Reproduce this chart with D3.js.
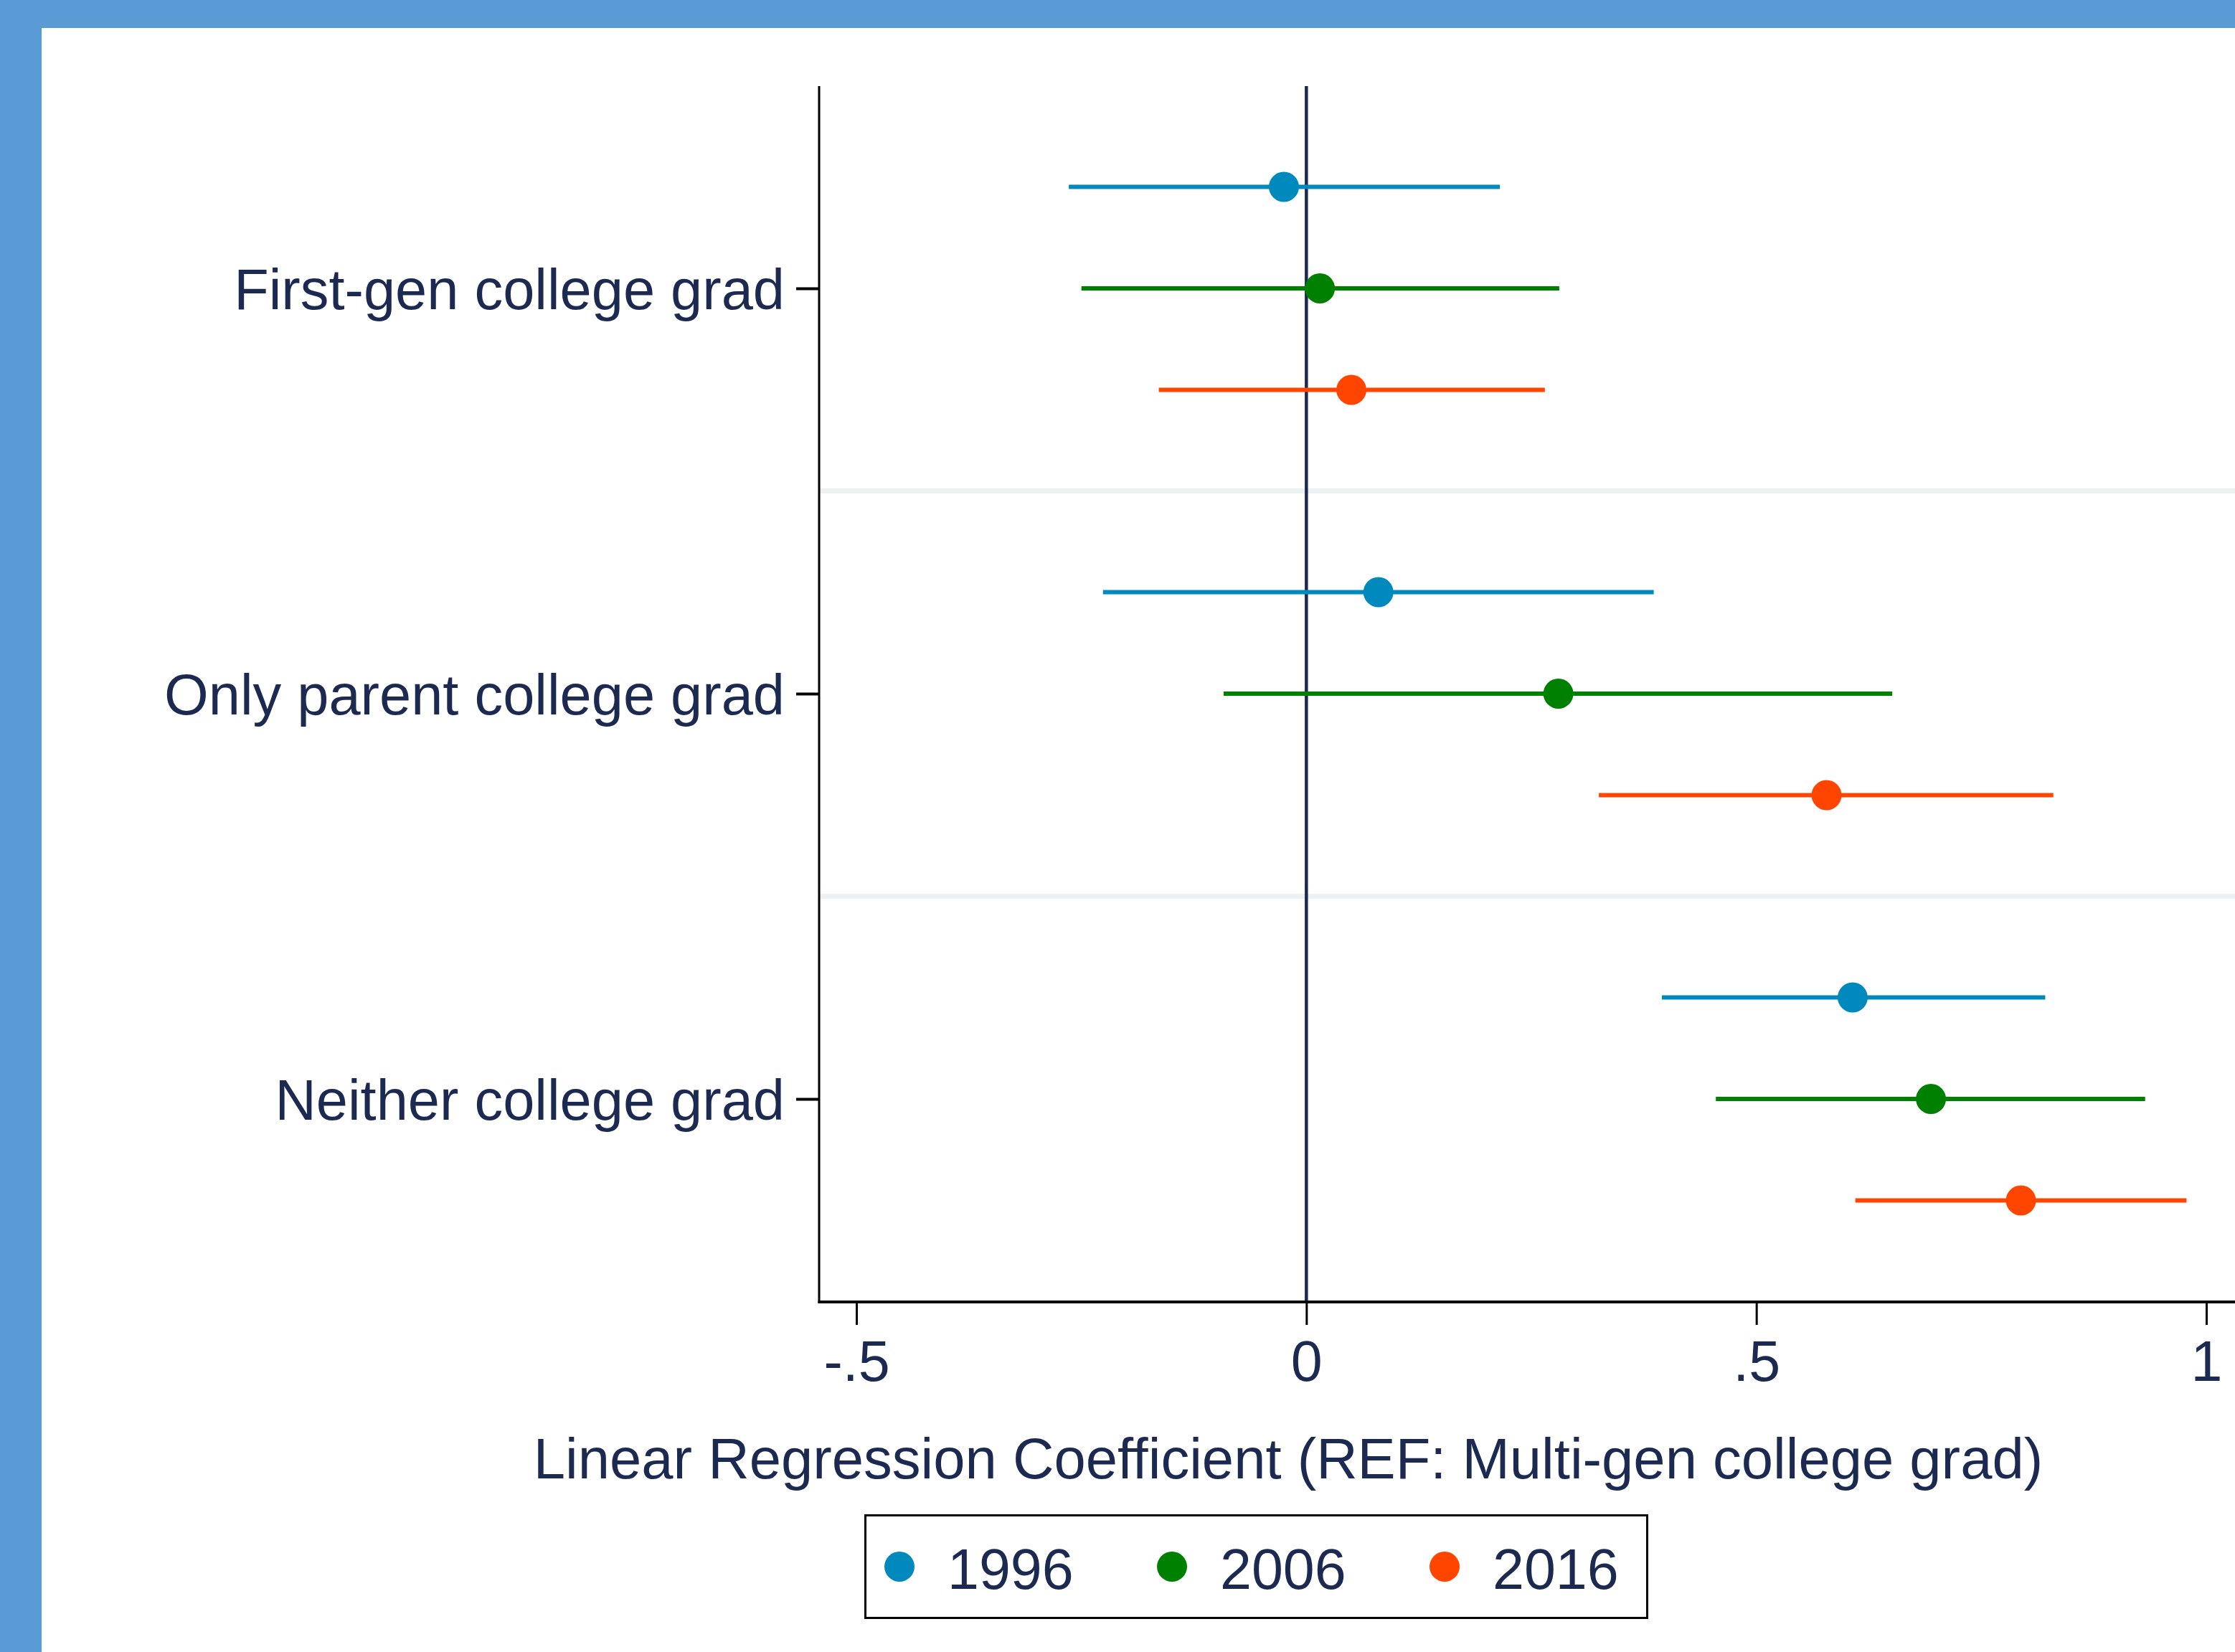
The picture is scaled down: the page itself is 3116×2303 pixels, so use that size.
<!DOCTYPE html>
<html>
<head>
<meta charset="utf-8">
<script src="https://cdn.jsdelivr.net/npm/d3@7"></script>
<style>
  html, body { margin: 0; padding: 0; background: #5b9bd5; }
  svg { display: block; }
  text { font-family: "Liberation Sans", Arial, Helvetica, sans-serif; fill: #1c2a52; }
</style>
</head>
<body>
<div id="chart"></div>
<script>
const categories = ["First-gen college grad", "Only parent college grad", "Neither college grad"];
const years = ["1996", "2006", "2016"];
const colors = ["#0089bd", "#008000", "#ff4500"];

// point estimates and 95% CI, one array per year (order follows categories)
const coef1996 = [-0.025, 0.080, 0.607];
const lo1996 = [-0.264, -0.226, 0.395];
const hi1996 = [0.215, 0.386, 0.821];
const coef2006 = [0.015, 0.280, 0.694];
const lo2006 = [-0.250, -0.092, 0.455];
const hi2006 = [0.281, 0.651, 0.932];
const coef2016 = [0.050, 0.578, 0.794];
const lo2016 = [-0.164, 0.325, 0.610];
const hi2016 = [0.265, 0.830, 0.978];

const xTicks = [-0.5, 0, 0.5, 1];
const xTickLabels = ["-.5", "0", ".5", "1"];
const xTitle = "Linear Regression Coefficient (REF: Multi-gen college grad)";

const width = 3116, height = 2303;
const plotLeft = 1142, plotTop = 120, plotBottom = 1815;

const series = [
    { year: years[0], coef: coef1996, lo: lo1996, hi: hi1996, color: colors[0] },
    { year: years[1], coef: coef2006, lo: lo2006, hi: hi2006, color: colors[1] },
    { year: years[2], coef: coef2016, lo: lo2016, hi: hi2016, color: colors[2] }
];

const svg = d3.select("#chart")
    .append("svg")
    .attr("width", width)
    .attr("height", height);

// frame: blue border top/left, white page
svg.append("rect")
    .attr("x", 0).attr("y", 0)
    .attr("width", width).attr("height", height)
    .attr("fill", "#5b9bd5");
svg.append("rect")
    .attr("x", 58).attr("y", 39)
    .attr("width", width - 58).attr("height", height - 39)
    .attr("fill", "white");

const x = d3.scaleLinear()
    .domain([-0.5, 1])
    .range([1194, 3076]);

const y = d3.scalePoint()
    .domain(categories)
    .range([402, 1532]);

const offset = d3.scalePoint()
    .domain(years)
    .range([-141.5, 141.5]);

// light gridlines between category groups
const step = y(categories[1]) - y(categories[0]);
svg.selectAll("line.grid")
    .data(categories.slice(0, -1))
    .enter().append("line")
    .attr("class", "grid")
    .attr("x1", plotLeft).attr("x2", width)
    .attr("y1", d => y(d) + step / 2)
    .attr("y2", d => y(d) + step / 2)
    .attr("stroke", "#eaf2f3")
    .attr("stroke-width", 7);

// zero reference line
svg.append("line")
    .attr("x1", x(0)).attr("x2", x(0))
    .attr("y1", plotTop).attr("y2", plotBottom)
    .attr("stroke", "#1c2a52")
    .attr("stroke-width", 4.5);

// error bars + points
series.forEach(s => {
    const g = svg.append("g");
    g.selectAll("line")
        .data(categories)
        .enter().append("line")
        .attr("x1", (d, i) => x(s.lo[i]))
        .attr("x2", (d, i) => x(s.hi[i]))
        .attr("y1", d => y(d) + offset(s.year))
        .attr("y2", d => y(d) + offset(s.year))
        .attr("stroke", s.color)
        .attr("stroke-width", 6);
    g.selectAll("circle")
        .data(categories)
        .enter().append("circle")
        .attr("cx", (d, i) => x(s.coef[i]))
        .attr("cy", d => y(d) + offset(s.year))
        .attr("r", 21)
        .attr("fill", s.color);
});

// axes
const xAxis = svg.append("g")
    .attr("transform", `translate(0, ${plotBottom})`)
    .call(d3.axisBottom(x)
        .tickValues(xTicks)
        .tickFormat((d, i) => xTickLabels[i])
        .tickSize(32)
        .tickPadding(22));
xAxis.select(".domain").remove();
xAxis.selectAll(".tick line").attr("stroke", "black").attr("stroke-width", 3);
xAxis.selectAll(".tick text")
    .attr("fill", "#1c2a52")
    .style("font-size", "79px")
    .attr("dy", "0.71em");

svg.append("line")
    .attr("x1", plotLeft - 1.5).attr("x2", width)
    .attr("y1", plotBottom).attr("y2", plotBottom)
    .attr("stroke", "black").attr("stroke-width", 4);

const yAxis = svg.append("g")
    .attr("transform", `translate(${plotLeft}, 0)`)
    .call(d3.axisLeft(y).tickSize(32).tickPadding(16));
yAxis.select(".domain").remove();
yAxis.selectAll(".tick line").attr("stroke", "black").attr("stroke-width", 4);
yAxis.selectAll(".tick text")
    .attr("fill", "#1c2a52")
    .style("font-size", "79.4px")
    .attr("dy", "0.36em");

svg.append("line")
    .attr("x1", plotLeft).attr("x2", plotLeft)
    .attr("y1", plotTop).attr("y2", plotBottom + 1.5)
    .attr("stroke", "black").attr("stroke-width", 3);

// x title
svg.append("text")
    .attr("x", 1796)
    .attr("y", 2061)
    .attr("text-anchor", "middle")
    .style("font-size", "79.6px")
    .text(xTitle);

// legend
const legend = svg.append("g");
legend.append("rect")
    .attr("x", 1206.5).attr("y", 2112.5)
    .attr("width", 1090).attr("height", 143)
    .attr("fill", "white")
    .attr("stroke", "black")
    .attr("stroke-width", 3);
const legendX = d3.scalePoint().domain(years).range([1254, 2014]);
legend.selectAll("circle")
    .data(series)
    .enter().append("circle")
    .attr("cx", d => legendX(d.year))
    .attr("cy", 2184)
    .attr("r", 21)
    .attr("fill", d => d.color);
legend.selectAll("text")
    .data(series)
    .enter().append("text")
    .attr("x", d => legendX(d.year) + 67)
    .attr("y", 2215)
    .style("font-size", "79px")
    .text(d => d.year);
</script>
</body>
</html>
